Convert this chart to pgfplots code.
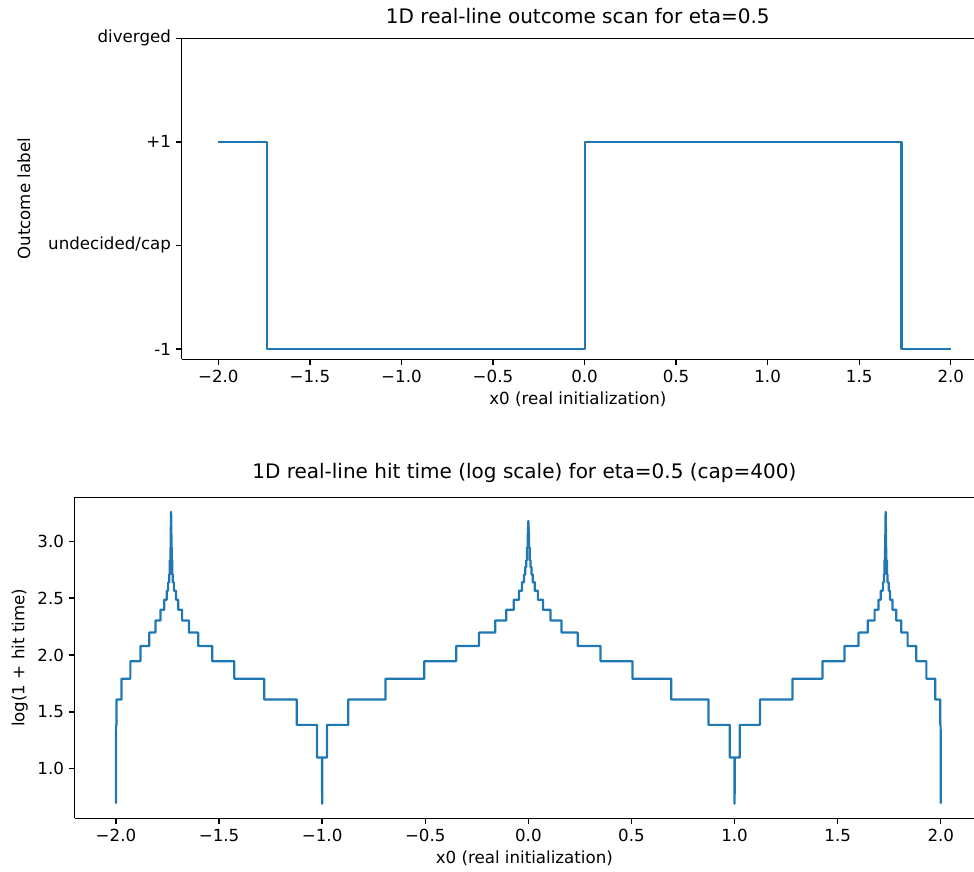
\documentclass[border=0pt]{standalone}
\usepackage{fontspec}
\setmainfont{DejaVu Sans}
\usepackage{pgfplots}
\pgfplotsset{compat=1.18}
\definecolor{mplblue}{HTML}{1F77B4}

\pgfplotsset{
  mpl/.style={
    scale only axis,
    anchor=south west,
    axis x line*=box,
    axis y line*=left,
    axis line style={-, line width=0.96pt, black},
    xtick pos=lower,
    ytick pos=left,
    tick align=outside,
    major tick length=4.2pt,
    tick style={line width=0.96pt, black},
    tick label style={font=\fontsize{12}{14}\selectfont},
    label style={font=\fontsize{12}{14}\selectfont},
    title style={font=\fontsize{14.4}{17}\selectfont, yshift=1pt},
    xmin=-2.2,
    xtick={-2,-1.5,-1,-0.5,0,0.5,1,1.5,2},
    xticklabels={−2.0,−1.5,−1.0,−0.5,0.0,0.5,1.0,1.5,2.0},
    xlabel={x0 (real initialization)},
  },
}

\begin{document}
\begin{tikzpicture}

% top: outcome label
\begin{axis}[mpl,
  at={(130.82pt,369.14pt)},
  width=570.46pt, height=231.12pt,
  xmax=2.127,
  ymin=-1.1, ymax=2,
  ytick={-1,0,1,2},
  yticklabels={-1,undecided/cap,+1,diverged},
  ylabel={Outcome label},
  ylabel shift=6pt,
  title={1D real-line outcome scan for eta=0.5},
]
\addplot[mplblue, line width=1.6pt, line join=round] coordinates {
  (-2.000,1) (-1.733,1) (-1.733,-1) (0.001,-1) (0.001,1)
  (1.731,1) (1.731,-1) (2.000,-1)
};
\end{axis}

% bottom: hit time
\begin{axis}[mpl,
  at={(53.78pt,38.66pt)},
  width=647.5pt, height=231.12pt,
  xmax=2.161,
  ymin=0.565, ymax=3.386,
  ytick={1,1.5,2,2.5,3},
  yticklabels={1.0,1.5,2.0,2.5,3.0},
  ylabel={log(1 + hit time)},
  title={1D real-line hit time (log scale) for eta=0.5 (cap=400)},
]
\addplot[mplblue, line width=1.6pt, line join=round] coordinates {
  (-2.000,0.693) (-2.000,1.099) (-1.999,1.386) (-1.997,1.386) (-1.997,1.609)
  (-1.973,1.609) (-1.973,1.792) (-1.930,1.792) (-1.930,1.946)
  (-1.881,1.946) (-1.881,2.079) (-1.839,2.079) (-1.839,2.197)
  (-1.808,2.197) (-1.808,2.303) (-1.784,2.303) (-1.784,2.398)
  (-1.766,2.398) (-1.766,2.485) (-1.754,2.485) (-1.754,2.565)
  (-1.747,2.565) (-1.747,2.639) (-1.742,2.639) (-1.742,2.708)
  (-1.739,2.708) (-1.739,2.833) (-1.736,2.833) (-1.736,2.944)
  (-1.734,2.944) (-1.734,3.091) (-1.7325,3.258)
  (-1.731,3.045) (-1.731,2.944) (-1.729,2.944) (-1.729,2.833)
  (-1.727,2.833) (-1.727,2.708) (-1.724,2.708) (-1.724,2.639)
  (-1.719,2.639) (-1.719,2.565) (-1.709,2.565) (-1.709,2.485)
  (-1.698,2.485) (-1.698,2.398) (-1.679,2.398) (-1.679,2.303)
  (-1.646,2.303) (-1.646,2.197) (-1.601,2.197) (-1.601,2.079)
  (-1.533,2.079) (-1.533,1.946) (-1.426,1.946) (-1.426,1.792)
  (-1.281,1.792) (-1.281,1.609) (-1.123,1.609) (-1.123,1.386)
  (-1.025,1.386) (-1.025,1.099) (-1.001,1.099) (-1.000,0.693)
  (-0.999,1.099) (-0.977,1.099) (-0.977,1.386)
  (-0.873,1.386) (-0.873,1.609) (-0.693,1.609) (-0.693,1.792)
  (-0.505,1.792) (-0.505,1.946) (-0.350,1.946) (-0.350,2.079)
  (-0.239,2.079) (-0.239,2.197) (-0.161,2.197) (-0.161,2.303)
  (-0.107,2.303) (-0.107,2.398) (-0.071,2.398) (-0.071,2.485)
  (-0.046,2.485) (-0.046,2.565) (-0.031,2.565) (-0.031,2.639)
  (-0.021,2.639) (-0.021,2.708) (-0.015,2.708) (-0.015,2.773)
  (-0.010,2.773) (-0.010,2.833) (-0.007,2.833) (-0.007,2.944)
  (-0.003,2.944) (-0.003,3.045) (0.000,3.178)
  (0.003,3.045) (0.003,2.944) (0.007,2.944) (0.007,2.833)
  (0.010,2.833) (0.010,2.773) (0.015,2.773) (0.015,2.708)
  (0.021,2.708) (0.021,2.639) (0.031,2.639) (0.031,2.565)
  (0.046,2.565) (0.046,2.485) (0.071,2.485) (0.071,2.398)
  (0.107,2.398) (0.107,2.303) (0.161,2.303) (0.161,2.197)
  (0.239,2.197) (0.239,2.079) (0.350,2.079) (0.350,1.946)
  (0.505,1.946) (0.505,1.792) (0.693,1.792) (0.693,1.609)
  (0.873,1.609) (0.873,1.386) (0.977,1.386) (0.977,1.099)
  (0.999,1.099) (1.000,0.693) (1.001,1.099) (1.025,1.099)
  (1.025,1.386) (1.123,1.386) (1.123,1.609) (1.281,1.609)
  (1.281,1.792) (1.426,1.792) (1.426,1.946) (1.533,1.946)
  (1.533,2.079) (1.601,2.079) (1.601,2.197) (1.646,2.197)
  (1.646,2.303) (1.679,2.303) (1.679,2.398) (1.698,2.398)
  (1.698,2.485) (1.709,2.485) (1.709,2.565) (1.719,2.565)
  (1.719,2.639) (1.724,2.639) (1.724,2.708) (1.727,2.708)
  (1.727,2.833) (1.729,2.833) (1.729,2.944) (1.731,2.944)
  (1.731,3.045) (1.7325,3.258)
  (1.734,3.091) (1.734,2.944) (1.736,2.944) (1.736,2.833)
  (1.739,2.833) (1.739,2.708) (1.742,2.708) (1.742,2.639)
  (1.747,2.639) (1.747,2.565) (1.754,2.565) (1.754,2.485)
  (1.766,2.485) (1.766,2.398) (1.784,2.398) (1.784,2.303)
  (1.808,2.303) (1.808,2.197) (1.839,2.197) (1.839,2.079)
  (1.881,2.079) (1.881,1.946) (1.930,1.946) (1.930,1.792)
  (1.973,1.792) (1.973,1.609) (1.997,1.609) (1.997,1.386)
  (1.999,1.386) (2.000,1.099) (2.000,0.693)
};
\end{axis}

\pgfresetboundingbox
\path[use as bounding box] (0,0) rectangle (701.28pt,627.84pt);
\end{tikzpicture}
\end{document}
